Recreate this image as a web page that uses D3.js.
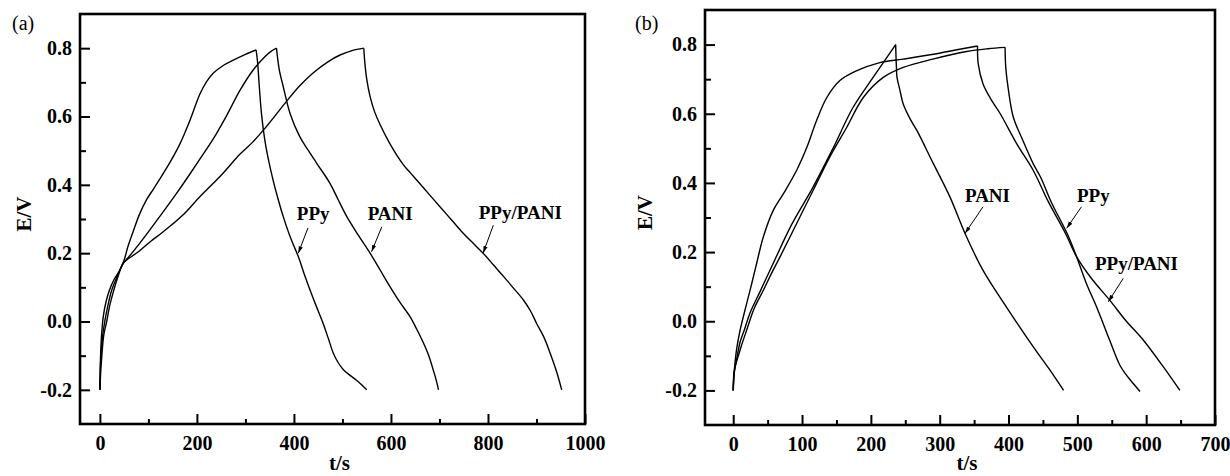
<!DOCTYPE html>
<html>
<head>
<meta charset="utf-8">
<script src="https://cdn.jsdelivr.net/npm/d3@7"></script>
<style>
body { margin: 0; background: #fff; }
svg { display: block; }
</style>
</head>
<body>
<svg id="chart" width="1230" height="476" font-family="Liberation Serif"></svg>
<script>
// ---- data: [t (s), E (V)] ----
// panel (a)
var aPPy = [[0,-0.2],[1,-0.12],[3,-0.05],[7,0.015],[13,0.06],[20,0.093],[30,0.125],[41,0.15],[50,0.18],
  [58,0.22],[69,0.265],[82,0.315],[96,0.356],[110,0.387],[124,0.418],[145,0.467],[165,0.52],[186,0.59],
  [206,0.665],[220,0.702],[234,0.727],[255,0.75],[275,0.765],[300,0.782],[322,0.795],
  [325,0.76],[329,0.68],[333,0.61],[340,0.531],[348,0.47],[357,0.414],[367,0.36],[378,0.307],[393,0.245],
  [409,0.19],[421,0.14],[433,0.093],[446,0.045],[460,-0.005],[471,-0.05],[481,-0.092],[491,-0.12],
  [502,-0.141],[515,-0.157],[529,-0.172],[540,-0.186],[550,-0.2]];
var aPANI = [[0,-0.2],[1.5,-0.12],[5,-0.05],[10,0.0],[17,0.05],[24,0.09],[35,0.13],[48,0.17],[60,0.19],
  [80,0.225],[103,0.268],[130,0.32],[158,0.375],[180,0.42],[206,0.475],[234,0.535],[261,0.602],[289,0.677],
  [316,0.736],[340,0.775],[352,0.79],[364,0.8],
  [366,0.775],[370,0.735],[378,0.687],[392,0.609],[412,0.541],[430,0.5],[447,0.463],[474,0.405],[490,0.36],
  [509,0.307],[533,0.252],[557,0.2],[578,0.15],[598,0.102],[619,0.055],[639,0.015],[654,-0.025],
  [667,-0.063],[678,-0.1],[687,-0.141],[693,-0.17],[698,-0.2]];
var aPPyPANI = [[0,-0.2],[2,-0.14],[4,-0.1],[8,-0.04],[14,0.0],[20,0.045],[27,0.083],[37,0.13],[48,0.17],
  [60,0.185],[80,0.205],[105,0.235],[130,0.262],[170,0.31],[206,0.365],[250,0.428],[289,0.49],[315,0.525],
  [337,0.56],[360,0.6],[385,0.645],[412,0.69],[440,0.728],[470,0.76],[495,0.78],[520,0.793],[544,0.8],
  [546,0.76],[550,0.71],[557,0.658],[566,0.615],[577,0.578],[598,0.52],[625,0.46],[640,0.435],[653,0.414],
  [677,0.375],[701,0.336],[725,0.297],[749,0.258],[770,0.228],[790,0.2],[811,0.166],[832,0.132],
  [853,0.097],[873,0.063],[888,0.03],[900,-0.005],[915,-0.045],[928,-0.092],[941,-0.145],[952,-0.2]];
// panel (b)
var bPANI = [[0,-0.2],[1,-0.16],[3,-0.13],[5,-0.11],[10,-0.06],[17,-0.02],[24,0.022],[40,0.09],[58,0.167],
  [85,0.28],[116,0.388],[145,0.5],[174,0.618],[205,0.71],[236,0.8],
  [237,0.74],[238,0.705],[242,0.67],[247,0.628],[257,0.585],[267,0.551],[291,0.455],[315,0.359],
  [337,0.253],[363,0.147],[397,0.041],[436,-0.074],[458,-0.135],[480,-0.2]];
var bPPy = [[0,-0.2],[1,-0.15],[3,-0.13],[7,-0.103],[12,-0.07],[19.5,-0.026],[30,0.035],[43.6,0.089],
  [56,0.14],[68,0.186],[92,0.282],[116,0.378],[140,0.474],[165,0.561],[189,0.647],[218,0.705],[247,0.734],
  [290,0.758],[339,0.78],[370,0.788],[395,0.792],
  [396,0.734],[400,0.667],[407,0.59],[421,0.522],[436,0.455],[447,0.415],[462,0.345],[486,0.25],
  [499,0.186],[513,0.11],[528,0.041],[547,-0.055],[562,-0.128],[570,-0.152],[577,-0.17],[591,-0.203]];
var bPPyPANI = [[0,-0.2],[1,-0.16],[2.5,-0.122],[5,-0.08],[10,-0.026],[19.5,0.051],[27,0.11],[34,0.167],
  [43.6,0.243],[58,0.32],[73,0.369],[92,0.436],[107,0.503],[121,0.58],[136,0.647],[155,0.696],[179,0.724],
  [213,0.748],[247,0.758],[291,0.772],[325,0.785],[355,0.796],
  [356,0.744],[363,0.686],[375,0.64],[388,0.6],[412,0.513],[436,0.436],[458,0.345],[483,0.253],
  [499,0.186],[520,0.125],[547,0.061],[570,0.003],[596,-0.055],[625,-0.132],[649,-0.2]];

var seriesNames = ["PPy", "PANI", "PPy/PANI"];
var yTicks = [-0.2, 0.0, 0.2, 0.4, 0.6, 0.8];
var yMinor = [-0.1, 0.1, 0.3, 0.5, 0.7];
var aXTicks = [0, 200, 400, 600, 800, 1000];
var aXMinor = [100, 300, 500, 700, 900];
var bXTicks = [0, 100, 200, 300, 400, 500, 600, 700];
var bXMinor = [50, 150, 250, 350, 450, 550, 650];

var FONT = "Liberation Serif";
var svg = d3.select("#chart");

svg.append("defs").append("marker")
    .attr("id", "ah")
    .attr("viewBox", "0 0 10 10")
    .attr("refX", 10).attr("refY", 5)
    .attr("markerWidth", 7).attr("markerHeight", 7)
    .attr("markerUnits", "userSpaceOnUse")
    .attr("orient", "auto")
  .append("path")
    .attr("d", "M0,2L10,5L0,8Z")
    .attr("fill", "#000");

function drawPanel(p) {
    var x = d3.scaleLinear().domain([-41, p.xMax]).range([p.left, p.right]);
    var y = d3.scaleLinear().domain([-0.3, 0.9]).range([p.bottom, p.top]);
    var g = svg.append("g");

    // ticks sit inside the frame
    g.append("g").attr("transform", "translate(0," + p.bottom + ")")
        .call(d3.axisBottom(x).tickValues(p.xTicks).tickSize(-10).tickPadding(12)
            .tickFormat(function (d) { return d; }));
    g.append("g").attr("transform", "translate(0," + p.bottom + ")")
        .call(d3.axisBottom(x).tickValues(p.xMinor).tickSize(-5).tickFormat(""));
    g.append("g").attr("transform", "translate(" + p.left + ",0)")
        .call(d3.axisLeft(y).tickValues(yTicks).tickSize(-10).tickPadding(8)
            .tickFormat(function (d) { return d.toFixed(1); }));
    g.append("g").attr("transform", "translate(" + p.left + ",0)")
        .call(d3.axisLeft(y).tickValues(yMinor).tickSize(-6).tickFormat(""));

    g.selectAll(".domain").remove();
    g.selectAll("g").attr("font-family", FONT).attr("font-size", 20);
    g.selectAll(".tick line").attr("stroke", "#000").attr("stroke-width", 2);
    g.selectAll(".tick text")
        .attr("font-family", FONT)
        .attr("font-weight", "bold")
        .attr("font-size", 20)
        .attr("fill", "#000");

    // charge and discharge branches drawn apart so the peak stays sharp
    var line = d3.line()
        .x(function (d) { return x(d[0]); })
        .y(function (d) { return y(d[1]); })
        .curve(d3.curveCatmullRom.alpha(0.5));
    p.series.forEach(function (s) {
        var k = d3.maxIndex(s, function (d) { return d[1]; });
        [s.slice(0, k + 1), s.slice(k)].forEach(function (part) {
            g.append("path")
                .attr("d", line(part))
                .attr("fill", "none")
                .attr("stroke", "#000")
                .attr("stroke-width", 1.4);
        });
    });

    // frame
    g.append("rect")
        .attr("x", p.left).attr("y", p.top)
        .attr("width", p.right - p.left).attr("height", p.bottom - p.top)
        .attr("fill", "none").attr("stroke", "#000").attr("stroke-width", 2.6);

    // curve labels with arrows
    p.notes.forEach(function (n, i) {
        g.append("text")
            .attr("x", x(n.label[0])).attr("y", y(n.label[1]))
            .attr("font-family", FONT).attr("font-weight", "bold").attr("font-size", 19)
            .text(seriesNames[i]);
        g.append("line")
            .attr("x1", x(n.from[0])).attr("y1", y(n.from[1]))
            .attr("x2", x(n.tip[0])).attr("y2", y(n.tip[1]))
            .attr("stroke", "#000").attr("stroke-width", 1)
            .attr("marker-end", "url(#ah)");
    });

    // axis titles and panel letter
    g.append("text")
        .attr("transform", "translate(" + p.yTitleX + "," + ((p.top + p.bottom) / 2 - 5) + ") rotate(-90)")
        .attr("text-anchor", "middle")
        .attr("font-family", FONT).attr("font-weight", "bold").attr("font-size", 21)
        .text("E/V");
    g.append("text")
        .attr("x", (p.left + p.right) / 2 + 7).attr("y", 470)
        .attr("text-anchor", "middle")
        .attr("font-family", FONT).attr("font-weight", "bold").attr("font-size", 21)
        .text("t/s");
    g.append("text")
        .attr("x", p.letterX).attr("y", 30)
        .attr("font-family", FONT).attr("font-size", 20)
        .text(p.letter);
}

drawPanel({
    left: 80, right: 585, top: 14, bottom: 424, xMax: 1000,
    xTicks: aXTicks, xMinor: aXMinor,
    series: [aPPy, aPANI, aPPyPANI],
    notes: [
        { label: [406, 0.297], from: [429, 0.274], tip: [409, 0.2] },
        { label: [552, 0.297], from: [581, 0.277], tip: [560, 0.204] },
        { label: [781, 0.3], from: [811, 0.282], tip: [790, 0.2] }
    ],
    yTitleX: 31, letterX: 12, letter: "(a)"
});

drawPanel({
    left: 705, right: 1215, top: 10, bottom: 425, xMax: 700,
    xTicks: bXTicks, xMinor: bXMinor,
    series: [bPPy, bPANI, bPPyPANI],
    notes: [
        { label: [499.5, 0.345], from: [506, 0.331], tip: [484.5, 0.269] },
        { label: [336.7, 0.345], from: [363, 0.331], tip: [336.7, 0.254] },
        { label: [525.6, 0.148], from: [566.7, 0.124], tip: [545, 0.0565] }
    ],
    yTitleX: 652, letterX: 635, letter: "(b)"
});
</script>
</body>
</html>
